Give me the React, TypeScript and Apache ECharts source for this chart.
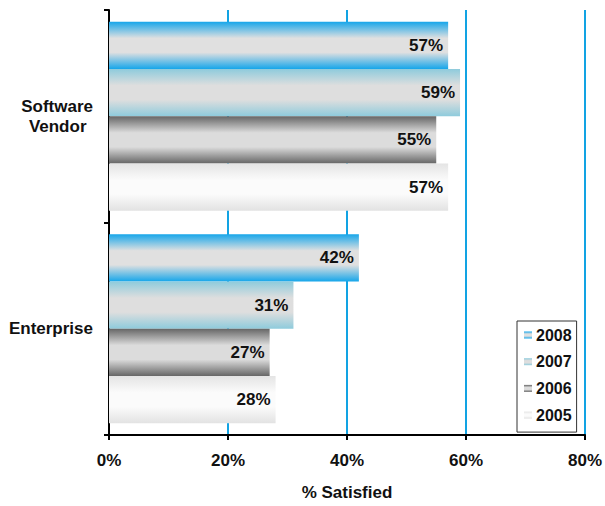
import React, { useEffect, useRef } from "react";
import * as echarts from "echarts";

const categories = ["Software Vendor", "Enterprise"];
const seriesNames = ["2008", "2007", "2006", "2005"];
const values2008 = [57, 42];
const values2007 = [59, 31];
const values2006 = [55, 27];
const values2005 = [57, 28];
const xTicks = [0, 20, 40, 60, 80];

const FONT = "'Liberation Sans', Arial, Helvetica, sans-serif";

function grad(edge: string, center: string, edge2?: string) {
  return new echarts.graphic.LinearGradient(0, 0, 0, 1, [
    { offset: 0, color: edge },
    { offset: 0.35, color: center },
    { offset: 0.65, color: center },
    { offset: 1, color: edge2 || edge },
  ]);
}

export default function App() {
  const ref = useRef<HTMLDivElement>(null);
  useEffect(() => {
    if (!ref.current) return;
    const chart = echarts.init(ref.current, undefined, { renderer: "svg" });
    const colors = [
      grad("#16a6ea", "#e0e0e0"),
      grad("#8ecbdc", "#dedede"),
      grad("#666666", "#dcdcdc"),
      grad("#e4e4e4", "#fbfbfb", "#e2e2e2"),
    ];
    const data = [values2008, values2007, values2006, values2005];
    const label = {
      show: true,
      position: "insideRight",
      distance: 5,
      formatter: "{c}%",
      color: "#111",
      fontFamily: FONT,
      fontWeight: "bold",
      fontSize: 17,
    };
    chart.setOption({
      animation: false,
      backgroundColor: "#ffffff",
      grid: { left: 109, top: 10, width: 479, height: 429, containLabel: false },
      legend: {
        orient: "vertical",
        left: 517,
        top: 321,
        width: 60,
        padding: [6, 5, 9, 7],
        itemWidth: 8,
        itemHeight: 7,
        itemGap: 10.7,
        icon: "rect",
        borderColor: "#333",
        borderWidth: 1,
        backgroundColor: "#fff",
        data: seriesNames,
        textStyle: {
          fontFamily: FONT,
          fontWeight: "bold",
          fontSize: 16,
          color: "#111",
          padding: [0, 0, 0, -1],
        },
      },
      xAxis: {
        type: "value",
        min: xTicks[0],
        max: xTicks[xTicks.length - 1],
        interval: 20,
        name: "% Satisfied",
        nameLocation: "middle",
        nameGap: 49,
        nameTextStyle: {
          fontFamily: FONT,
          fontWeight: "bold",
          fontSize: 17,
          color: "#111",
        },
        axisLine: { show: true, lineStyle: { color: "#000", width: 2 } },
        axisTick: { show: true, length: 5, lineStyle: { color: "#000", width: 2 } },
        axisLabel: {
          margin: 17,
          formatter: "{value}%",
          fontFamily: FONT,
          fontWeight: "bold",
          fontSize: 17,
          color: "#111",
        },
        splitLine: { show: true, lineStyle: { color: "#12a3e3", width: 2 } },
      },
      yAxis: {
        type: "category",
        inverse: true,
        data: categories,
        axisLine: { show: true, lineStyle: { color: "#000", width: 2 } },
        axisTick: { show: true, length: 5, lineStyle: { color: "#000", width: 2 } },
        axisLabel: {
          margin: 16,
          align: "right",
          formatter: (v: string) =>
            v === "Software Vendor" ? "{a|Software}\n{b|Vendor}" : "{a|" + v + "}",
          rich: {
            a: {
              fontFamily: FONT,
              fontWeight: "bold",
              fontSize: 17,
              color: "#111",
              lineHeight: 20,
            },
            b: {
              fontFamily: FONT,
              fontWeight: "bold",
              fontSize: 17,
              color: "#111",
              lineHeight: 20,
              padding: [0, 6.5, 0, 0],
            },
          },
        },
        splitLine: { show: false },
      },
      series: seriesNames.map((name, i) => ({
        name,
        type: "bar",
        data: data[i],
        barGap: "0%",
        barCategoryGap: "11%",
        itemStyle: { color: colors[i] },
        label,
      })),
    });
    return () => chart.dispose();
  }, []);
  return (
    <div
      ref={ref}
      style={{ position: "absolute", left: 0, top: 0, width: 605, height: 506 }}
    />
  );
}
